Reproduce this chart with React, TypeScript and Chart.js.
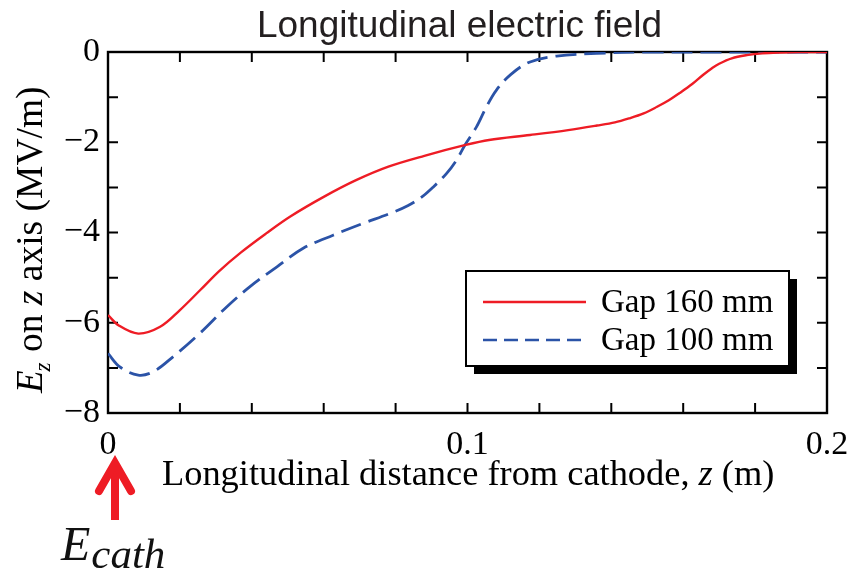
import React, { useEffect, useRef } from "react";
import { Chart, registerables } from "chart.js";

Chart.register(...registerables);

// Gap 160 mm (red, solid)
const zRed = [0, 0.003, 0.0084, 0.0145, 0.02, 0.0256, 0.031, 0.037, 0.044, 0.0506, 0.06, 0.069, 0.078, 0.088, 0.0995, 0.106, 0.1174, 0.128, 0.136, 0.141, 0.145, 0.149, 0.1526, 0.156, 0.159, 0.1625, 0.1655, 0.168, 0.17, 0.1735, 0.1777, 0.182, 0.187, 0.192, 0.2];
const eRed = [-5.83, -6.06, -6.24, -6.09, -5.72, -5.28, -4.85, -4.44, -4.02, -3.65, -3.21, -2.84, -2.54, -2.3, -2.06, -1.95, -1.84, -1.73, -1.63, -1.56, -1.47, -1.36, -1.22, -1.07, -0.91, -0.71, -0.51, -0.36, -0.26, -0.14, -0.07, -0.03, -0.01, 0, 0];

// Gap 100 mm (blue, dashed)
const zBlue = [0, 0.0033, 0.0084, 0.0125, 0.018, 0.0256, 0.033, 0.0395, 0.047, 0.0543, 0.0626, 0.0709, 0.0784, 0.0835, 0.0875, 0.0905, 0.0942, 0.097, 0.0993, 0.1025, 0.1053, 0.108, 0.112, 0.1174, 0.1248, 0.136, 0.15, 0.2];
const eBlue = [-6.68, -6.98, -7.16, -7.09, -6.76, -6.23, -5.65, -5.2, -4.76, -4.35, -4.06, -3.8, -3.58, -3.4, -3.2, -2.99, -2.69, -2.39, -2.06, -1.66, -1.21, -0.85, -0.5, -0.22, -0.09, -0.03, 0, 0];

const seriesNames = ["Gap 160 mm", "Gap 100 mm"];
const xLabelValues = [0, 0.1, 0.2];
const yLabelValues = [0, -2, -4, -6, -8];
const chartTitle = "Longitudinal electric field";

const RED = "#ee1c25";
const BLUE = "#2b53a7";
const SERIF = "'Liberation Serif', 'Times New Roman', serif";
const SANS = "'Liberation Sans', Arial, sans-serif";

const decorPlugin = {
  id: "decor",
  beforeDatasetsDraw(chart: any) {
    const ctx = chart.ctx;
    const { left, right, top, bottom } = chart.chartArea;
    const xs = chart.scales.x;
    const ys = chart.scales.y;
    ctx.save();
    ctx.strokeStyle = "#000";
    ctx.lineWidth = 2.4;
    ctx.strokeRect(left, top, right - left, bottom - top);
    ctx.lineWidth = 2;
    const tl = 10;
    ctx.beginPath();
    for (let i = 1; i < 10; i++) {
      const x = xs.getPixelForValue(i * 0.02);
      ctx.moveTo(x, bottom);
      ctx.lineTo(x, bottom - tl);
      ctx.moveTo(x, top);
      ctx.lineTo(x, top + tl);
    }
    for (let v = -7; v <= -1; v++) {
      const y = ys.getPixelForValue(v);
      ctx.moveTo(left, y);
      ctx.lineTo(left + tl, y);
      ctx.moveTo(right, y);
      ctx.lineTo(right - tl, y);
    }
    ctx.stroke();
    ctx.restore();
  },
  afterDraw(chart: any) {
    const ctx = chart.ctx;
    ctx.save();
    // Title
    ctx.fillStyle = "#231f20";
    ctx.font = `37px ${SANS}`;
    ctx.textAlign = "center";
    ctx.textBaseline = "alphabetic";
    ctx.fillText(chartTitle, 459.5, 37);

    // X axis title
    ctx.fillStyle = "#000";
    ctx.textAlign = "left";
    let x = 162;
    const xb = 485;
    const parts: [string, boolean][] = [["Longitudinal distance from cathode, ", false], ["z", true], [" (m)", false]];
    for (const [t, it] of parts) {
      ctx.font = `${it ? "italic " : ""}36.4px ${SERIF}`;
      ctx.fillText(t, x, xb);
      x += ctx.measureText(t).width;
    }

    // Y axis title (rotated)
    ctx.save();
    ctx.translate(42, 393);
    ctx.rotate(-Math.PI / 2);
    let p = 0;
    ctx.font = `italic 37px ${SERIF}`;
    ctx.fillText("E", p, 0);
    p += ctx.measureText("E").width;
    ctx.font = `italic 23px ${SERIF}`;
    ctx.fillText("z", p - 1, 8);
    p += ctx.measureText("z").width;
    const yparts: [string, boolean][] = [[" on ", false], ["z", true], [" axis (MV/m)", false]];
    for (const [t, it] of yparts) {
      ctx.font = `${it ? "italic " : ""}37.5px ${SERIF}`;
      ctx.fillText(t, p, 0);
      p += ctx.measureText(t).width;
    }
    ctx.restore();

    // Legend
    const bx = 466, by = 271, bw = 323, bh = 95;
    ctx.fillStyle = "#000";
    ctx.fillRect(bx + 8, by + 8, bw, bh);
    ctx.fillStyle = "#fff";
    ctx.fillRect(bx, by, bw, bh);
    ctx.strokeStyle = "#000";
    ctx.lineWidth = 2;
    ctx.strokeRect(bx, by, bw, bh);
    ctx.lineWidth = 2.4;
    ctx.strokeStyle = RED;
    ctx.beginPath();
    ctx.moveTo(483, 302);
    ctx.lineTo(586, 302);
    ctx.stroke();
    ctx.strokeStyle = BLUE;
    ctx.lineWidth = 2.6;
    ctx.setLineDash([14, 7]);
    ctx.beginPath();
    ctx.moveTo(483, 340);
    ctx.lineTo(588, 340);
    ctx.stroke();
    ctx.setLineDash([]);
    ctx.fillStyle = "#000";
    ctx.font = `33px ${SERIF}`;
    ctx.fillText(seriesNames[0], 601, 312);
    ctx.fillText(seriesNames[1], 601, 350);

    // Arrow for E_cath
    const ax = chart.scales.x.getPixelForValue(0) + 7;
    ctx.strokeStyle = RED;
    ctx.lineWidth = 8;
    ctx.lineCap = "butt";
    ctx.beginPath();
    ctx.moveTo(ax, 520);
    ctx.lineTo(ax, 468);
    ctx.stroke();
    ctx.lineCap = "round";
    ctx.lineJoin = "miter";
    ctx.beginPath();
    ctx.moveTo(ax - 16, 491);
    ctx.lineTo(ax, 463);
    ctx.lineTo(ax + 16, 491);
    ctx.stroke();

    // E_cath label
    ctx.fillStyle = "#111";
    ctx.font = `italic 48px ${SERIF}`;
    ctx.fillText("E", 61, 560);
    const ew = ctx.measureText("E").width;
    ctx.font = `italic 43px ${SERIF}`;
    ctx.fillText("cath", 61 + ew + 1, 568);
    ctx.restore();
  },
};

export default function App() {
  const ref = useRef<HTMLCanvasElement>(null);
  useEffect(() => {
    if (!ref.current) return;
    const chart = new Chart(ref.current, {
      type: "scatter",
      data: {
        datasets: [
          {
            label: seriesNames[0],
            data: zRed.map((z, i) => ({ x: z, y: eRed[i] })),
            showLine: true,
            borderColor: RED,
            borderWidth: 2.4,
            pointRadius: 0,
            tension: 0.35,
          },
          {
            label: seriesNames[1],
            data: zBlue.map((z, i) => ({ x: z, y: eBlue[i] })),
            showLine: true,
            borderColor: BLUE,
            borderWidth: 2.8,
            borderDash: [21, 8],
            pointRadius: 0,
            tension: 0.35,
          },
        ],
      },
      options: {
        animation: false,
        responsive: false,
        layout: { padding: { top: 52, right: 34, left: 0, bottom: 0 } },
        plugins: { legend: { display: false }, title: { display: false }, tooltip: { enabled: false } },
        scales: {
          x: {
            type: "linear",
            min: 0,
            max: 0.2,
            grid: { display: false, drawTicks: false },
            border: { display: false },
            ticks: {
              stepSize: 0.02,
              autoSkip: false,
              maxRotation: 0,
              padding: 12,
              color: "#000",
              font: { family: SERIF, size: 34 },
              callback: (v: any) => {
                const n = Number(v);
                const hit = xLabelValues.find((t) => Math.abs(t - n) < 1e-6);
                return hit === undefined ? "" : String(hit);
              },
            },
            afterFit: (s: any) => {
              s.height = 159;
            },
          },
          y: {
            type: "linear",
            min: -8,
            max: 0,
            grid: { display: false, drawTicks: false },
            border: { display: false },
            ticks: {
              stepSize: 1,
              autoSkip: false,
              padding: 8,
              color: "#000",
              font: { family: SERIF, size: 34 },
              callback: (v: any) => {
                const n = Number(v);
                const hit = yLabelValues.find((t) => Math.abs(t - n) < 1e-6);
                if (hit === undefined) return "";
                return hit < 0 ? "\u2212" + Math.abs(hit) : String(hit);
              },
            },
            afterFit: (s: any) => {
              s.width = 108;
            },
          },
        },
      },
      plugins: [decorPlugin],
    } as any);
    return () => chart.destroy();
  }, []);
  return (
    <div style={{ position: "fixed", left: 0, top: 0, width: 861, height: 572, background: "#fff" }}>
      <canvas ref={ref} width={861} height={572} style={{ width: 861, height: 572, display: "block" }} />
    </div>
  );
}
